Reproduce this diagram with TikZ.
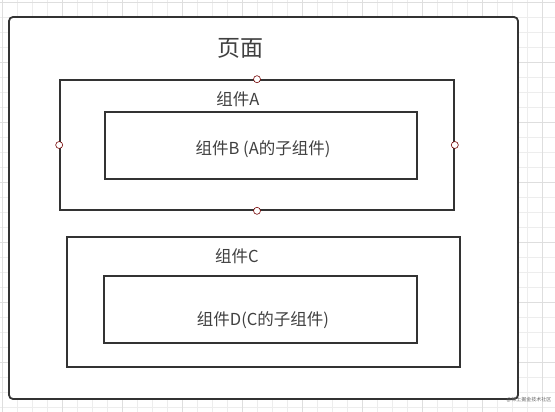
\documentclass[tikz,border=0pt]{standalone}
\usepackage{fontspec}
\setmainfont{Noto Sans CJK SC}
\usepackage{tikz}

\begin{document}
\begin{tikzpicture}[x=1pt, y=-1pt,
    box/.style = {draw=black!80, line width=1.6pt, inner sep=0pt},
    handle/.style = {circle, draw=red!45!black, fill=white, line width=0.6pt, minimum size=7pt, inner sep=0pt},
    txt/.style = {text=black!75, font=\fontsize{16.5}{18}\selectfont}]

                        \useasboundingbox (0,0) rectangle (555,412);
                        \fill[white] (0,0) rectangle (555,412);
                        \draw[black!7, line width=0.5pt, xshift=2pt, yshift=-2pt] (-2,-2) grid[step=15pt] (555,412);
                        \draw[black!13, line width=0.5pt, xshift=2pt, yshift=-2pt] (-2,-2) grid[step=60pt] (555,412);

                        \node[box, rounded corners=4pt, line width=1.8pt, fill=white, minimum width=509pt, minimum height=382pt] (page) at (263.5,208) {};
                        \node[txt, font=\fontsize{23}{26}\selectfont] (pagelbl) at (240,48) {页面};

                        \node[box, minimum width=394pt, minimum height=130pt] (compA) at (257,145) {};
                        \node[txt] (lblA) at (238,99) {组件A};
                        \node[box, minimum width=312pt, minimum height=67pt] (compB) at (261,145.5) {};
                        \node[txt] (lblB) at (263,149) {组件B (A的子组件)};

                        \foreach \side in {north,south,west,east}
                            \node[handle] (h\side) at (compA.\side) {};

                        \node[box, minimum width=393pt, minimum height=130pt] (compC) at (263.5,302) {};
                        \node[txt] (lblC) at (237,256) {组件C};
                        \node[box, minimum width=313pt, minimum height=67pt] (compD) at (260.5,309.5) {};
                        \node[txt] (lblD) at (263,320) {组件D(C的子组件)};

                        \node[text=black!60, font=\fontsize{5}{6}\selectfont] (mark) at (529,400) {@稀土掘金技术社区};
\end{tikzpicture}
\end{document}
